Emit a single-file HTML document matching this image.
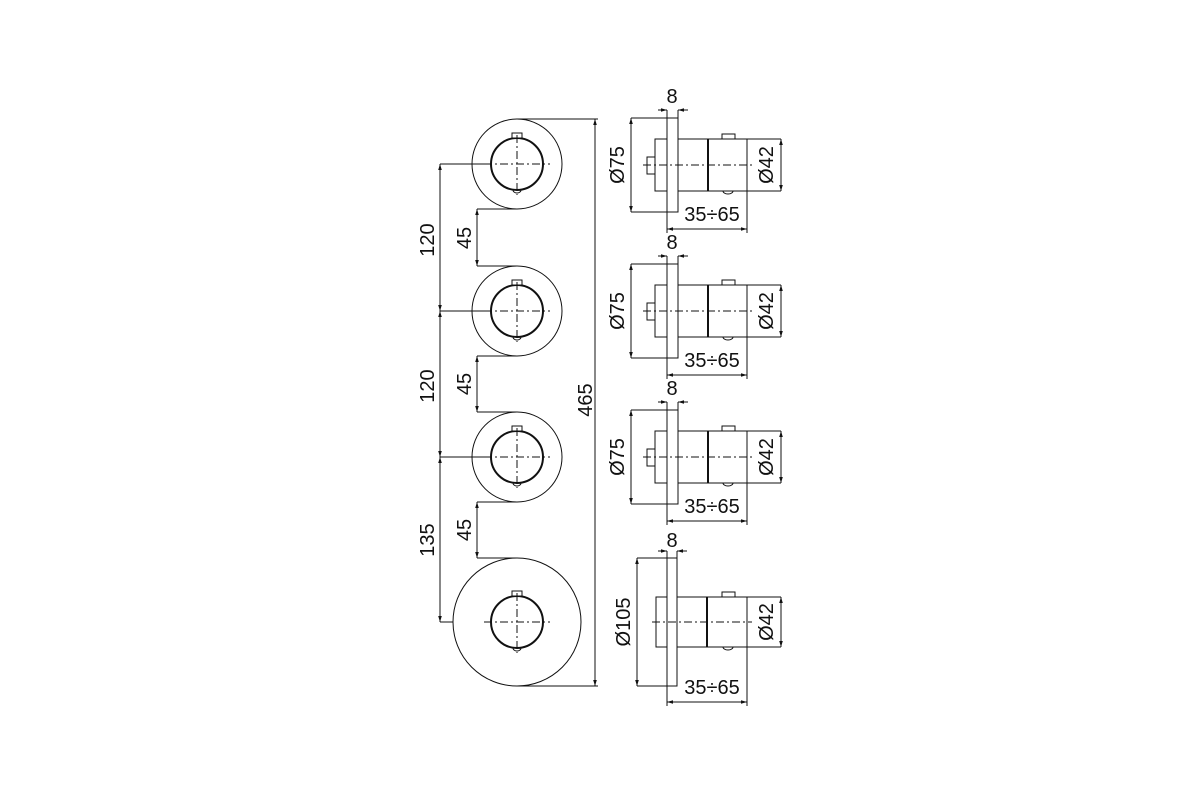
<!DOCTYPE html>
<html><head><meta charset="utf-8"><style>
html,body{margin:0;padding:0;background:#fff;width:1200px;height:800px;overflow:hidden}
svg{display:block}
text{font-family:"Liberation Sans","DejaVu Sans",sans-serif;font-size:20px;fill:#111}
</style></head><body>
<svg width="1200" height="800" viewBox="0 0 1200 800" xmlns="http://www.w3.org/2000/svg">
<defs>
<marker id="a" viewBox="0 0 10 10" refX="10" refY="5" markerWidth="6" markerHeight="6" orient="auto-start-reverse"><path d="M0,2 L10,5 L0,8 z" fill="#111"/></marker>
<g id="knob">
  <circle cx="0" cy="0" r="26" fill="none" stroke="#111" stroke-width="2"/>
  <rect x="-5" y="-31" width="10" height="5" fill="#fff" stroke="#111" stroke-width="1"/>
  <path d="M-4,26 A4,3 0 0 0 4,26" fill="none" stroke="#111" stroke-width="1"/>
  <line x1="-33" y1="0" x2="33" y2="0" stroke="#111" stroke-width="1" stroke-dasharray="8,3,2,3"/>
  <line x1="0" y1="-29" x2="0" y2="31" stroke="#111" stroke-width="1" stroke-dasharray="8,3,2,3"/>
</g>
<g id="side">
  <g fill="none" stroke="#111" stroke-width="1">
    <rect x="647" y="-8" width="8" height="17"/>
    <rect x="655" y="-26" width="12" height="52"/>
    <rect x="667" y="-47" width="11" height="94" fill="#fff"/>
    <rect x="678" y="-26" width="69" height="52"/>
    <line x1="708" y1="-26" x2="708" y2="26" stroke-width="2"/>
    <rect x="722" y="-31" width="13" height="5"/>
    <path d="M723,26 A5,3 0 0 0 733,26"/>
    <line x1="643" y1="0" x2="752" y2="0" stroke-dasharray="8,3,2,3"/>
    <line x1="631" y1="-47" x2="667" y2="-47"/><line x1="631" y1="47" x2="667" y2="47"/>
    <line x1="631" y1="-47" x2="631" y2="47" marker-start="url(#a)" marker-end="url(#a)"/>
    <line x1="667" y1="-55" x2="667" y2="-47"/><line x1="678" y1="-55" x2="678" y2="-47"/>
    <line x1="658" y1="-55" x2="667" y2="-55" marker-end="url(#a)"/>
    <line x1="688" y1="-55" x2="678" y2="-55" marker-end="url(#a)"/>
    <line x1="747" y1="-26" x2="781" y2="-26"/><line x1="747" y1="26" x2="781" y2="26"/>
    <line x1="781" y1="-26" x2="781" y2="26" marker-start="url(#a)" marker-end="url(#a)"/>
    <line x1="667" y1="47" x2="667" y2="68"/><line x1="747" y1="26" x2="747" y2="68"/>
    <line x1="667" y1="64" x2="747" y2="64" marker-start="url(#a)" marker-end="url(#a)"/>
  </g>
  <text x="672" y="-62" text-anchor="middle">8</text>
  <text x="712" y="56" text-anchor="middle">35÷65</text>
  <text transform="translate(624,0) rotate(-90)" text-anchor="middle">Ø75</text>
  <text transform="translate(773,0) rotate(-90)" text-anchor="middle">Ø42</text>
</g>
</defs>

<!-- front view -->
<g fill="none" stroke="#111" stroke-width="1">
  <circle cx="517" cy="164" r="45"/>
  <circle cx="517" cy="311" r="45"/>
  <circle cx="517" cy="457" r="45"/>
  <circle cx="517" cy="622" r="64"/>
  <!-- left chain dims -->
  <line x1="440" y1="164" x2="484" y2="164"/>
  <line x1="440" y1="311" x2="484" y2="311"/>
  <line x1="440" y1="457" x2="484" y2="457"/>
  <line x1="440" y1="622" x2="453" y2="622"/>
  <line x1="440" y1="164" x2="440" y2="311" marker-start="url(#a)" marker-end="url(#a)"/>
  <line x1="440" y1="311" x2="440" y2="457" marker-start="url(#a)" marker-end="url(#a)"/>
  <line x1="440" y1="457" x2="440" y2="622" marker-start="url(#a)" marker-end="url(#a)"/>
  <!-- 45 dims -->
  <line x1="477" y1="209" x2="517" y2="209"/><line x1="477" y1="266" x2="517" y2="266"/>
  <line x1="477" y1="209" x2="477" y2="266" marker-start="url(#a)" marker-end="url(#a)"/>
  <line x1="477" y1="356" x2="517" y2="356"/><line x1="477" y1="412" x2="517" y2="412"/>
  <line x1="477" y1="356" x2="477" y2="412" marker-start="url(#a)" marker-end="url(#a)"/>
  <line x1="477" y1="502" x2="517" y2="502"/><line x1="477" y1="558" x2="517" y2="558"/>
  <line x1="477" y1="502" x2="477" y2="558" marker-start="url(#a)" marker-end="url(#a)"/>
  <!-- 465 -->
  <line x1="517" y1="119" x2="598" y2="119"/><line x1="517" y1="686" x2="598" y2="686"/>
  <line x1="595" y1="119" x2="595" y2="686" marker-start="url(#a)" marker-end="url(#a)"/>
</g>
<use href="#knob" transform="translate(517,164)"/>
<use href="#knob" transform="translate(517,311)"/>
<use href="#knob" transform="translate(517,457)"/>
<use href="#knob" transform="translate(517,622)"/>
<text transform="translate(434,240) rotate(-90)" text-anchor="middle">120</text>
<text transform="translate(434,386) rotate(-90)" text-anchor="middle">120</text>
<text transform="translate(434,540) rotate(-90)" text-anchor="middle">135</text>
<text transform="translate(471,238) rotate(-90)" text-anchor="middle">45</text>
<text transform="translate(471,384) rotate(-90)" text-anchor="middle">45</text>
<text transform="translate(471,530) rotate(-90)" text-anchor="middle">45</text>
<text transform="translate(592,400) rotate(-90)" text-anchor="middle">465</text>

<!-- side views -->
<use href="#side" transform="translate(0,165)"/>
<use href="#side" transform="translate(0,311)"/>
<use href="#side" transform="translate(0,457)"/>

<!-- large side view -->
<g fill="none" stroke="#111" stroke-width="1">
  <rect x="656" y="597" width="11" height="50"/>
  <rect x="667" y="558" width="10" height="128" fill="#fff"/>
  <rect x="677" y="597" width="70" height="50"/>
  <line x1="707" y1="597" x2="707" y2="647" stroke-width="2"/>
  <rect x="722" y="592" width="13" height="5"/>
  <path d="M723,647 A5,3 0 0 0 733,647"/>
  <line x1="652" y1="622" x2="752" y2="622" stroke-dasharray="8,3,2,3"/>
  <line x1="637" y1="558" x2="667" y2="558"/><line x1="637" y1="686" x2="667" y2="686"/>
  <line x1="637" y1="558" x2="637" y2="686" marker-start="url(#a)" marker-end="url(#a)"/>
  <line x1="667" y1="551" x2="667" y2="558"/><line x1="677" y1="551" x2="677" y2="558"/>
  <line x1="658" y1="551" x2="667" y2="551" marker-end="url(#a)"/>
  <line x1="687" y1="551" x2="677" y2="551" marker-end="url(#a)"/>
  <line x1="747" y1="597" x2="781" y2="597"/><line x1="747" y1="647" x2="781" y2="647"/>
  <line x1="781" y1="597" x2="781" y2="647" marker-start="url(#a)" marker-end="url(#a)"/>
  <line x1="667" y1="686" x2="667" y2="706"/><line x1="747" y1="647" x2="747" y2="706"/>
  <line x1="667" y1="702" x2="747" y2="702" marker-start="url(#a)" marker-end="url(#a)"/>
</g>
<text x="672" y="547" text-anchor="middle">8</text>
<text x="712" y="694" text-anchor="middle">35÷65</text>
<text transform="translate(630,622) rotate(-90)" text-anchor="middle">Ø105</text>
<text transform="translate(773,622) rotate(-90)" text-anchor="middle">Ø42</text>
</svg>
</body></html>
